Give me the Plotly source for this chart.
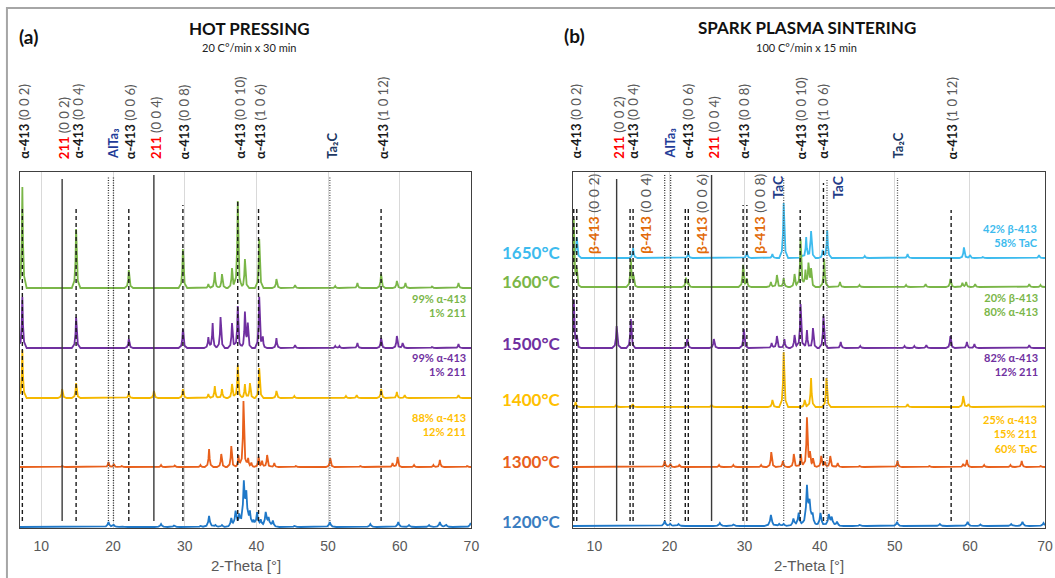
import numpy as np
import plotly.graph_objects as go

W, H = 1055, 578

# ---------------- DATA (intensities in arbitrary units) ----------------
# Hot pressing (panel a)
hp_1600_tt = [7.35, 14.85, 22.2, 29.75, 33.3, 34.2, 35.2, 36.6, 37.4, 38.4, 40.4, 42.8, 45.4, 51.0, 54.1, 57.4, 59.6, 60.8, 64.5, 68.2]
hp_1600_i = [101, 59, 18, 39, 4, 16, 14, 20, 87, 29, 49, 9, 3, 2, 5, 14, 7, 5, 1.5, 5]
hp_1500_tt = [7.35, 14.85, 22.2, 29.75, 33.3, 33.9, 35.0, 36.6, 37.4, 38.4, 38.8, 40.4, 40.9, 42.8, 45.4, 51.0, 51.6, 54.1, 57.4, 59.6, 60.4, 64.5, 68.2]
hp_1500_i = [51, 31, 9, 19, 11, 25, 31, 25, 42, 35, 23, 51, 10, 10, 3, 2, 2, 5, 10, 12, 5, 1, 4]
hp_1400_tt = [7.35, 12.9, 14.85, 22.2, 25.7, 29.75, 33.3, 34.2, 35.2, 36.6, 37.4, 38.4, 39.1, 40.4, 42.8, 45.3, 52.5, 54.0, 57.4, 59.6, 60.7, 68.2]
hp_1400_i = [48, 9, 15, 5, 7, 9, 4, 12, 9, 14, 33, 14, 15, 30, 7, 2, 2, 3, 9, 6, 3, 3]
hp_1300_tt = [12.9, 19.36, 20.1, 21.2, 26.7, 28.6, 32.2, 33.4, 35.1, 36.5, 37.5, 38.2, 38.85, 39.3, 40.3, 40.8, 41.5, 42.5, 45.5, 50.3, 54.5, 59.0, 59.7, 62.0, 64.7, 65.6, 69.4]
hp_1300_i = [1, 5, 3, 1, 2, 1.5, 2, 18, 13, 21, 12, 66, 9, 4, 10, 6, 12, 4, 1, 9, 1, 4, 10, 2, 2, 7, 1]
hp_1200_tt = [19.36, 20.1, 21.2, 26.7, 28.5, 32.2, 33.4, 34.3, 35.2, 36.5, 37.1, 37.6, 38.25, 38.6, 39.1, 39.6, 40.1, 40.6, 41.3, 41.7, 42.3, 45.3, 50.25, 55.9, 59.8, 61.3, 64.1, 65.6, 66.5, 69.9]
hp_1200_i = [5, 2, 1, 3, 1.5, 1, 11, 2, 2, 8, 15, 10, 42, 30, 13, 5, 14, 6, 14, 8, 6, 1, 5, 3, 5, 2, 2, 5, 2, 4]

# Spark plasma sintering (panel b)
sps_1650_tt = [7.3, 7.65, 15.15, 22.5, 30.3, 33.7, 35.2, 37.6, 38.2, 38.85, 40.4, 41.0, 46.0, 51.7, 59.2, 60.0, 61.7, 69.2]
sps_1650_i = [8, 20, 10, 5, 6, 4, 55, 3, 21, 27, 8, 28, 2, 4, 10.6, 3, 1, 3]
sps_1600_tt = [7.25, 7.65, 14.85, 15.2, 22.2, 22.5, 29.8, 30.3, 33.5, 34.3, 35.2, 36.65, 37.45, 38.1, 38.5, 38.85, 40.6, 42.7, 45.3, 51.5, 54.1, 57.4, 59.0, 59.5, 60.7, 67.9, 69.4]
sps_1600_i = [67, 15, 27, 10, 9, 4, 22, 8, 5, 12, 9, 13, 48, 16, 22, 17, 28, 5, 2, 2, 3, 8, 4, 5, 3, 3, 2]
sps_1500_tt = [7.25, 7.65, 12.96, 14.85, 22.36, 25.9, 29.9, 33.6, 34.3, 35.3, 36.65, 37.45, 38.3, 39.1, 40.5, 42.8, 45.4, 51.3, 52.6, 54.2, 57.4, 59.6, 60.6, 67.9]
sps_1500_i = [48, 10, 22, 29, 9, 9, 19, 5, 12, 9, 13, 44, 18, 20, 32, 6, 2, 2, 2, 3, 12, 6, 4, 3]
sps_1400_tt = [7.5, 12.9, 15.1, 25.6, 33.7, 35.2, 38.0, 38.85, 40.9, 51.7, 59.1, 59.8, 69.7]
sps_1400_i = [5, 2, 3, 2, 7, 55, 7, 29, 29, 3, 11, 3, 1]
sps_1300_tt = [19.36, 20.1, 21.3, 26.6, 28.5, 32.2, 33.55, 35.1, 36.55, 37.5, 38.3, 38.7, 39.1, 40.2, 40.7, 41.4, 42.4, 45.3, 50.36, 54.6, 59.1, 59.6, 61.9, 65.4, 66.9, 69.4]
sps_1300_i = [6, 3, 2, 2, 2, 2, 15, 6, 13, 13, 49, 12, 8, 11, 5, 11, 4, 1, 6, 1, 3, 7, 2, 2, 6, 1]
sps_1200_tt = [19.36, 20.1, 21.2, 26.7, 28.5, 33.5, 34.6, 35.2, 36.5, 37.2, 38.3, 38.65, 39.05, 40.1, 41.2, 41.6, 42.3, 45.3, 50.3, 56.0, 59.7, 61.4, 65.5, 67.0, 69.8]
sps_1200_i = [5, 2, 2, 3, 1.5, 11, 2, 2, 7, 13, 38, 21, 10, 13, 11, 8, 4, 1, 4, 2, 4, 1.5, 2, 4, 3]

# Reference lines: 2-theta position and phase
hp_ref_tt = [7.35, 12.9, 14.85, 19.36, 20.06, 22.2, 25.7, 29.75, 37.4, 40.3, 50.25, 57.4]
hp_ref_phase = ["a", "211", "a", "AlTa3", "AlTa3", "a", "211", "a", "a", "a", "Ta2C", "a"]
sps_ref_tt = [7.25, 7.65, 12.96, 14.75, 15.15, 19.36, 20.15, 22.1, 22.5, 25.6, 29.8, 30.3, 35.2, 37.4, 40.5, 40.97, 50.36, 57.5]
sps_ref_phase = ["a", "b", "211", "a", "b", "AlTa3", "AlTa3", "a", "b", "211", "a", "b", "TaC", "a", "a", "TaC", "Ta2C", "a"]

# Top phase labels (phase, hkl, 2-theta)
hp_top_phase = ["a", "211", "a", "AlTa3", "a", "211", "a", "a", "a", "Ta2C", "a"]
hp_top_hkl = ["(0 0 2)", "(0 0 2)", "(0 0 4)", "", "(0 0 6)", "(0 0 4)", "(0 0 8)", "(0 0 10)", "(1 0 6)", "", "(1 0 12)"]
hp_top_tt = [7.35, 12.9, 14.85, 19.7, 22.2, 25.7, 29.75, 37.4, 40.3, 50.25, 57.4]
sps_top_tt = [7.3, 12.96, 14.9, 19.75, 22.2, 25.6, 29.7, 37.3, 40.2, 50.1, 57.4]

sps_beta_hkl = ["(0 0 2)", "(0 0 4)", "(0 0 6)", "(0 0 8)"]
sps_beta_tt = [9.8, 16.7, 24.2, 31.9]
sps_tac_tt = [34.3, 42.3]

temps = ["1650°C", "1600°C", "1500°C", "1400°C", "1300°C", "1200°C"]
hp_comp = {"1600": "99% α-413<br>1% 211", "1500": "99% α-413<br>1% 211", "1400": "88% α-413<br>12% 211"}
sps_comp = {"1650": "42% β-413<br>58% TaC", "1600": "20% β-413<br>80% α-413",
            "1500": "82% α-413<br>12% 211", "1400": "25% α-413<br>15% 211<br>60% TaC"}

# ---------------- STYLE ----------------
COL = {"1650": "#3DBBEE", "1600": "#7AB648", "1500": "#7030A0", "1400": "#F5B800",
       "1300": "#E8601C", "1200": "#1F78C8"}
TCOL = {"1650": "#3DBBEE", "1600": "#7AB648", "1500": "#7030A0", "1400": "#FFC000",
        "1300": "#E8601C", "1200": "#3A7DC0"}
# stacking offsets (a.u.)
hp_off = {"1600": 240, "1500": 180, "1400": 130, "1300": 61, "1200": 1}
sps_off = {"1650": 270, "1600": 241, "1500": 180, "1400": 121, "1300": 61, "1200": 2}
hp_line_top = [321, 349, 321, 351, 351, 321, 353, 323, 328, 319, 351, 321]
sps_line_top = [321, 321, 349, 321, 321, 353, 353, 321, 321, 353, 323, 323, 350, 318, 345, 348, 350, 318]
LINE_BOTTOM = 7
YMAX = 356
FONT = "Lato"
GRAY = "#595959"


def px_x(p):
    return p / W


def px_y(p):
    return 1 - p / H


def profile(tt, inten, base, hw, lo, hi):
    dx = np.array([-1.0, -0.4, -0.15, 0.0, 0.15, 0.4, 1.0])
    fr = np.array([0.0, 0.12, 0.45, 1.0, 0.45, 0.12, 0.0])
    xs = [lo, hi]
    for p in tt:
        xs.extend(list(p + dx * hw))
    xs = np.array(sorted(set([x for x in xs if lo <= x <= hi])))
    ys = np.full_like(xs, float(base))
    for p, h in zip(tt, inten):
        ys += h * np.interp(xs, p + dx * hw, fr, left=0, right=0)
    return xs, ys


fig = go.Figure()

hp_sets = [("1600", hp_1600_tt, hp_1600_i), ("1500", hp_1500_tt, hp_1500_i), ("1400", hp_1400_tt, hp_1400_i),
           ("1300", hp_1300_tt, hp_1300_i), ("1200", hp_1200_tt, hp_1200_i)]
sps_sets = [("1650", sps_1650_tt, sps_1650_i), ("1600", sps_1600_tt, sps_1600_i), ("1500", sps_1500_tt, sps_1500_i),
            ("1400", sps_1400_tt, sps_1400_i), ("1300", sps_1300_tt, sps_1300_i), ("1200", sps_1200_tt, sps_1200_i)]

for key, tt, ii in hp_sets:
    hw = 0.9 if key == "1200" else 0.6
    xs, ys = profile(tt, ii, hp_off[key], hw, 7.0, 70.0)
    fig.add_trace(go.Scatter(x=xs, y=ys, mode="lines", line=dict(color=COL[key], width=1.8),
                             xaxis="x", yaxis="y", showlegend=False, hoverinfo="skip"))
for key, tt, ii in sps_sets:
    hw = 0.9 if key == "1200" else 0.6
    xs, ys = profile(tt, ii, sps_off[key], hw, 7.1, 70.0)
    fig.add_trace(go.Scatter(x=xs, y=ys, mode="lines", line=dict(color=COL[key], width=1.8),
                             xaxis="x2", yaxis="y2", showlegend=False, hoverinfo="skip"))

LSTY = {"a": dict(color="#1A1A1A", width=1.4, dash="4px,3px"),
        "b": dict(color="#1A1A1A", width=1.4, dash="4px,3px"),
        "211": dict(color="#3A3A3A", width=1.4),
        "AlTa3": dict(color="#333333", width=1.3, dash="1px,1.5px"),
        "Ta2C": dict(color="#555555", width=1.3, dash="1px,1.5px"),
        "TaC": dict(color="#555555", width=1.3, dash="1px,1.5px")}

for tt, ph, top in zip(hp_ref_tt, hp_ref_phase, hp_line_top):
    fig.add_trace(go.Scatter(x=[tt, tt], y=[LINE_BOTTOM, top], mode="lines", line=LSTY[ph],
                             xaxis="x", yaxis="y", showlegend=False, hoverinfo="skip"))
for tt, ph, top in zip(sps_ref_tt, sps_ref_phase, sps_line_top):
    fig.add_trace(go.Scatter(x=[tt, tt], y=[LINE_BOTTOM, top], mode="lines", line=LSTY[ph],
                             xaxis="x2", yaxis="y2", showlegend=False, hoverinfo="skip"))


def top_label(ph, hkl):
    g = f"<span style='color:{GRAY}'>{hkl}</span>"
    if ph == "a":
        return f"<b>α-413</b> {g}"
    if ph == "211":
        return f"<span style='color:#FF0000'><b>211</b></span> {g}"
    if ph == "AlTa3":
        return "<span style='color:#1F3C98'><b>AlTa₃</b></span>"
    if ph == "Ta2C":
        return "<span style='color:#203864'><b>Ta₂C</b></span>"
    return ""


ann = []
for xr, tts in (("x", hp_top_tt), ("x2", sps_top_tt)):
    for ph, hkl, tt in zip(hp_top_phase, hp_top_hkl, tts):
        ann.append(dict(x=tt, xref=xr, y=px_y(161), yref="paper", xanchor="center", yanchor="bottom",
                        textangle=-90, text=top_label(ph, hkl), showarrow=False, xshift=2,
                        font=dict(family=FONT, size=13, color="#1A1A1A")))

for hkl, tt in zip(sps_beta_hkl, sps_beta_tt):
    ann.append(dict(x=tt, xref="x2", y=px_y(256), yref="paper", xanchor="center", yanchor="bottom",
                    textangle=-90, showarrow=False,
                    text=f"<span style='color:#E26B0A'><b>β-413</b></span> <span style='color:{GRAY}'>{hkl}</span>",
                    font=dict(family=FONT, size=14)))
for tt in sps_tac_tt:
    ann.append(dict(x=tt, xref="x2", y=px_y(201), yref="paper", xanchor="center", yanchor="bottom",
                    textangle=-90, showarrow=False, text="<b>TaC</b>",
                    font=dict(family=FONT, size=14, color="#1F3C88")))

# temperature labels
t_y = {"1650": 252, "1600": 282, "1500": 343, "1400": 400, "1300": 461, "1200": 521}
for t in temps:
    k = t[:4]
    ann.append(dict(x=px_x(536), y=px_y(t_y[k]), xref="paper", yref="paper", xanchor="center", yanchor="middle",
                    text=f"<b>{t}</b>", showarrow=False, font=dict(family=FONT, size=17, color=TCOL[k])))

# composition labels
hp_cy = {"1600": 298, "1500": 357, "1400": 417}
for k, txt in hp_comp.items():
    ann.append(dict(x=px_x(472), y=px_y(hp_cy[k] - 8), xref="paper", yref="paper", xanchor="right",
                    yanchor="top", align="right", text=f"<b>{txt}</b>", showarrow=False,
                    font=dict(family=FONT, size=11, color=TCOL[k])))
sps_cy = {"1650": 228, "1600": 297, "1500": 357, "1400": 419}
for k, txt in sps_comp.items():
    ann.append(dict(x=px_x(1048), y=px_y(sps_cy[k] - 8), xref="paper", yref="paper", xanchor="right",
                    yanchor="top", align="right", text=f"<b>{txt}</b>", showarrow=False,
                    font=dict(family=FONT, size=11, color=TCOL[k])))

# titles
ann += [
    dict(x=px_x(17), y=px_y(37), xref="paper", yref="paper", xanchor="left", yanchor="middle",
         text="<b>(a)</b>", showarrow=False, font=dict(family=FONT, size=19, color="#111111")),
    dict(x=px_x(251), y=px_y(29), xref="paper", yref="paper", xanchor="center", yanchor="middle",
         text="<b>HOT PRESSING</b>", showarrow=False, font=dict(family=FONT, size=17, color="#111111")),
    dict(x=px_x(251), y=px_y(48), xref="paper", yref="paper", xanchor="center", yanchor="middle",
         text="20 C°/min x 30 min", showarrow=False, font=dict(family=FONT, size=11, color="#222222")),
    dict(x=px_x(566), y=px_y(36), xref="paper", yref="paper", xanchor="left", yanchor="middle",
         text="<b>(b)</b>", showarrow=False, font=dict(family=FONT, size=19, color="#111111")),
    dict(x=px_x(813), y=px_y(28), xref="paper", yref="paper", xanchor="center", yanchor="middle",
         text="<b>SPARK PLASMA SINTERING</b>", showarrow=False, font=dict(family=FONT, size=17, color="#111111")),
    dict(x=px_x(813), y=px_y(47), xref="paper", yref="paper", xanchor="center", yanchor="middle",
         text="100 C°/min x 15 min", showarrow=False, font=dict(family=FONT, size=11, color="#222222")),
    dict(x=px_x(248), y=px_y(565), xref="paper", yref="paper", xanchor="center", yanchor="middle",
         text="2-Theta [°]", showarrow=False, font=dict(family="Liberation Sans", size=15, color=GRAY)),
    dict(x=px_x(815), y=px_y(565), xref="paper", yref="paper", xanchor="center", yanchor="middle",
         text="2-Theta [°]", showarrow=False, font=dict(family="Liberation Sans", size=15, color=GRAY)),
]

ydom = [px_y(528), px_y(172)]
xax = dict(showline=True, mirror=True, linecolor="#404040", linewidth=1.3, showgrid=True,
           gridcolor="#D9D9D9", gridwidth=1, dtick=10, tick0=10, ticks="", zeroline=False,
           tickfont=dict(family="Liberation Sans", size=14, color=GRAY), ticklabelstandoff=5)
yax = dict(showline=True, mirror=True, linecolor="#404040", linewidth=1.3, showgrid=False,
           showticklabels=False, ticks="", zeroline=False, range=[0, YMAX])

fig.update_layout(
    width=W, height=H, margin=dict(l=0, r=0, t=0, b=0),
    paper_bgcolor="white", plot_bgcolor="white", showlegend=False,
    xaxis=dict(domain=[px_x(20), px_x(475)], range=[7.0, 70.0], anchor="y", **xax),
    yaxis=dict(domain=ydom, anchor="x", **yax),
    xaxis2=dict(domain=[px_x(577), px_x(1053)], range=[7.1, 70.0], anchor="y2", **xax),
    yaxis2=dict(domain=ydom, anchor="x2", **yax),
    annotations=ann,
    shapes=[dict(type="rect", xref="paper", yref="paper", x0=px_x(7), x1=1.05, y0=-0.05, y1=px_y(8),
                 line=dict(color="#A6A6A6", width=2), layer="below")],
)

fig.write_html("out.html")
